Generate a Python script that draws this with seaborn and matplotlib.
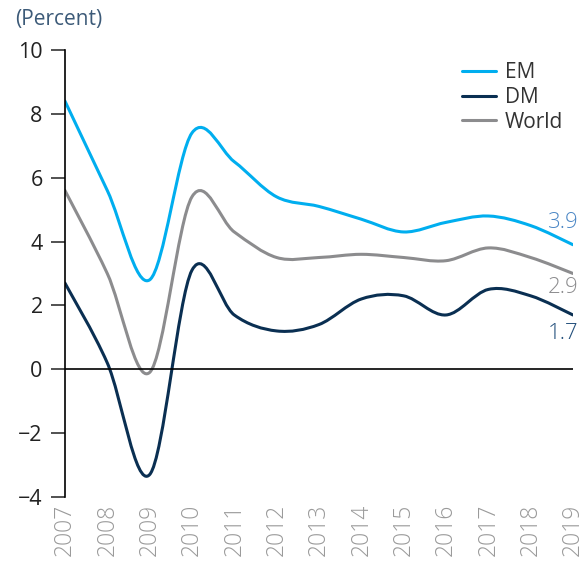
import matplotlib
matplotlib.use("Agg")
import matplotlib.pyplot as plt
from matplotlib.path import Path
from matplotlib.patches import PathPatch
from matplotlib.lines import Line2D
import numpy as np
import pandas as pd
import seaborn as sns

# values (percent)
years = list(range(2007, 2020))
em = [8.4, 5.6, 2.8, 7.4, 6.5, 5.4, 5.1, 4.7, 4.3, 4.6, 4.8, 4.5, 3.9]
dm = [2.7, 0.2, -3.3, 3.1, 1.7, 1.2, 1.4, 2.2, 2.3, 1.7, 2.5, 2.3, 1.7]
world = [5.6, 3.0, -0.1, 5.4, 4.3, 3.5, 3.5, 3.6, 3.5, 3.4, 3.8, 3.5, 3.0]
series = ["EM", "DM", "World"]
end_labels = {"EM": "3.9", "DM": "1.7", "World": "2.9"}

line_colors = {"EM": "#00aeef", "DM": "#0a2f52", "World": "#8c8c8e"}
label_colors = {"EM": "#4a86c5", "DM": "#24507c", "World": "#8c8c8e"}
label_offsets = {"EM": 16, "DM": -13, "World": -10}  # points, vertical

sns.set_style("ticks")
plt.rcParams["font.family"] = ["Open Sans", "DejaVu Sans"]

df = pd.DataFrame({
    "year": years * 3,
    "value": em + dm + world,
    "series": ["EM"] * 13 + ["DM"] * 13 + ["World"] * 13,
})


def smooth_path(x, y):
    # Catmull-Rom style curve through the points, as cubic Bezier segments
    pts = np.column_stack([x, y]).astype(float)
    ext = np.vstack([pts[:1], pts, pts[-1:]])
    verts = [pts[0]]
    codes = [Path.MOVETO]
    for i in range(len(pts) - 1):
        p0, p1, p2, p3 = ext[i], ext[i + 1], ext[i + 2], ext[i + 3]
        verts += [p1 + (p2 - p0) / 6, p2 - (p3 - p1) / 6, p2]
        codes += [Path.CURVE4] * 3
    return Path(verts, codes)


fig = plt.figure(figsize=(5.85, 5.62), dpi=100)
ax = fig.add_axes([0.111, 0.1157, 0.8684, 0.7954])

sns.lineplot(data=df, x="year", y="value", hue="series", hue_order=series,
             palette=line_colors, legend=False, ax=ax, linewidth=2.2)

# swap the straight segments for smooth curves through the same points
for name, line in zip(series, list(ax.lines)):
    x, y = line.get_data()
    line.set_visible(False)
    ax.add_patch(PathPatch(smooth_path(x, y), fill=False,
                           edgecolor=line_colors[name], linewidth=2.2,
                           capstyle="round", joinstyle="round"))
    ax.annotate(end_labels[name], xy=(x[-1], y[-1]),
                xytext=(4, label_offsets[name]), textcoords="offset points",
                ha="right", va="center", fontsize=16,
                color=label_colors[name], fontweight="light",
                annotation_clip=False)

ax.axhline(0, color="black", linewidth=1.2, zorder=1)

ax.set_xlim(2007, 2019)
ax.set_ylim(-4, 10)
ax.set_xticks(years)
ax.set_xticklabels([str(y) for y in years], rotation=90)
ax.set_yticks(range(-4, 11, 2))
ax.set_xlabel("")
ax.set_ylabel("")

for side in ["top", "right", "bottom"]:
    ax.spines[side].set_visible(False)
ax.spines["left"].set_color("black")
ax.spines["left"].set_linewidth(1.2)

ax.tick_params(axis="y", direction="out", length=10, width=1.2,
               color="#333333", labelsize=15.5, labelcolor="#222222", pad=6)
ax.tick_params(axis="x", length=0, labelsize=16.5, labelcolor="#9a9a9a", pad=5)
for lab in ax.get_xticklabels():
    lab.set_fontweight("light")

handles = [Line2D([], [], color=line_colors[s], linewidth=2.2) for s in series]
ax.legend(handles, series, loc="upper left", bbox_to_anchor=(0.762, 0.996),
          frameon=False, fontsize=15, handlelength=1.6, handletextpad=0.45,
          labelspacing=0.18, borderpad=0, labelcolor="#333333")

fig.text(15 / 585, 1 - 19 / 562, "(Percent)", fontsize=15, color="#3c5a78",
         va="center", ha="left")

fig.savefig("out.png", dpi=100)
